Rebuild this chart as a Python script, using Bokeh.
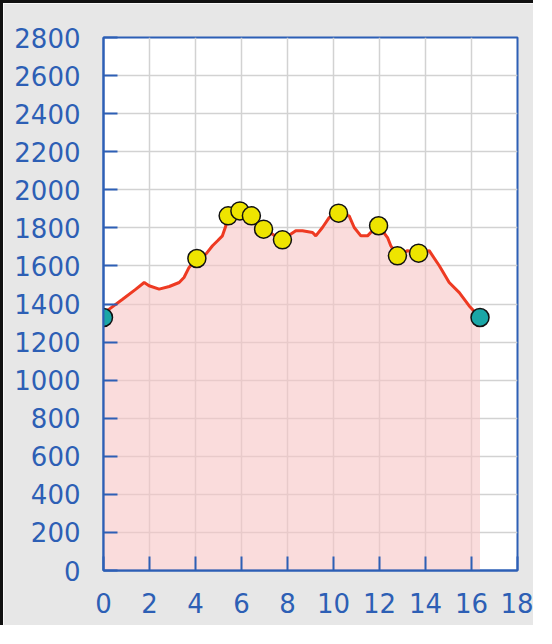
from bokeh.plotting import figure
from bokeh.models import Range1d, FixedTicker
from bokeh.embed import file_html
from bokeh.resources import INLINE

# Elevation profile (distance in km, elevation in m)
dist = [0, 0.25, 0.83, 1.41, 1.77, 1.98, 2.42, 2.86, 3.29, 3.5, 3.72, 4.06, 4.45, 4.74,
        4.96, 5.17, 5.32, 5.42, 5.93, 6.43, 6.96, 7.78, 8.36, 8.65, 9.09, 9.23, 9.52, 9.81,
        10.22, 10.68, 10.9, 11.19, 11.48, 11.69, 11.96, 12.35, 12.49, 12.78, 13.22, 13.7,
        14.16, 14.6, 15.03, 15.47, 15.9, 16.37]
elev = [1350, 1373, 1425, 1478, 1513, 1496, 1478, 1492, 1513, 1539, 1592, 1639, 1662, 1706,
        1732, 1758, 1811, 1863, 1889, 1863, 1793, 1737, 1785, 1785, 1776, 1758, 1802, 1854,
        1877, 1863, 1802, 1758, 1758, 1785, 1811, 1749, 1706, 1653, 1680, 1667,
        1680, 1601, 1513, 1460, 1390, 1329]

# Waypoints
way_x = [4.06, 5.42, 5.93, 6.43, 6.96, 7.78, 10.22, 11.96, 12.78, 13.7]
way_y = [1639, 1863, 1889, 1863, 1793, 1737, 1877, 1811, 1653, 1667]

# Start / end points
end_x = [0, 16.37]
end_y = [1329, 1329]

x_ticks = [0, 2, 4, 6, 8, 10, 12, 14, 16, 18]
y_ticks = list(range(0, 2801, 200))

BLUE = "#2d5fb5"
GRAY = "#e7e7e7"

p = figure(width=533, height=625, output_backend="svg", toolbar_location=None,
           x_range=Range1d(0, 18), y_range=Range1d(0, 2800),
           min_border_left=100, min_border_top=34, min_border_right=19,
           min_border_bottom=58)
p.styles = {"border-left": "3px solid #111111", "border-top": "3px solid #111111"}

p.background_fill_color = "white"
p.border_fill_color = GRAY
p.outline_line_color = BLUE
p.outline_line_width = 2

p.varea(x=dist, y1=0, y2=elev, fill_color="#f7c4c4", fill_alpha=0.6)
p.line(dist, elev, line_color="#ee3a22", line_width=3)
p.scatter(way_x, way_y, size=18, fill_color="#eee400", line_color="#111111", line_width=1.5)
p.scatter(end_x, end_y, size=18, fill_color="#1aa6a6", line_color="#111111", line_width=1.5)

for ax in (p.xaxis[0], p.yaxis[0]):
    ax.axis_line_color = BLUE
    ax.axis_line_width = 2
    ax.major_tick_line_color = BLUE
    ax.major_tick_line_width = 2
    ax.major_tick_in = 14
    ax.major_tick_out = 0
    ax.minor_tick_line_color = None
    ax.major_label_text_color = BLUE
    ax.major_label_text_font = "DejaVu Sans"
    ax.major_label_text_font_size = "26px"

p.yaxis[0].major_label_standoff = 23
p.xaxis[0].major_label_standoff = 22

p.xaxis[0].ticker = FixedTicker(ticks=x_ticks)
p.yaxis[0].ticker = FixedTicker(ticks=y_ticks)

for g in (p.xgrid[0], p.ygrid[0]):
    g.grid_line_color = "#d2d2d2"
    g.grid_line_width = 1.5

open("out.html", "w").write(file_html(p, INLINE))
